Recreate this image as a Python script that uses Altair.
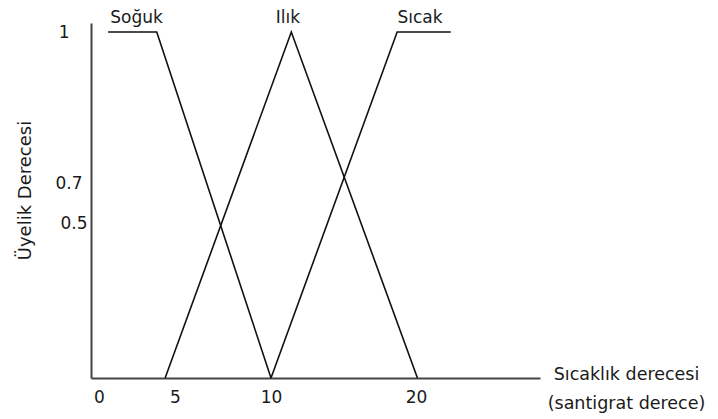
import altair as alt
import pandas as pd

# ---- data (x in "drawn" temperature units, y in membership) ----
series_names = ["Soğuk", "Ilık", "Sıcak"]
soguk_x = [0.6, 3.8, 10.0]
soguk_y = [1.0, 1.0, 0.0]
ilik_x = [4.35, 11.4, 20.1]
ilik_y = [0.0, 1.0, 0.0]
sicak_x = [10.0, 18.7, 22.4]
sicak_y = [0.0, 1.0, 1.0]

label_x = [2.47, 11.17, 20.28]
label_y = [1.0, 1.0, 1.0]

x_ticks = [0, 5, 10, 20]
y_ticks = [0.5, 0.7, 1]
x_title = ["Sıcaklık derecesi", "(santigrat derece)"]
y_title = "Üyelik Derecesi"

# ---- tables ----
rows = []
for name, xs, ys in zip(series_names, [soguk_x, ilik_x, sicak_x], [soguk_y, ilik_y, sicak_y]):
    for i, (xv, yv) in enumerate(zip(xs, ys)):
        rows.append({"series": name, "x": xv, "y": yv, "order": i})
lines_df = pd.DataFrame(rows)
labels_df = pd.DataFrame({"series": series_names, "x": label_x, "y": label_y})

FONT = "DejaVu Sans"
W, H = 449, 355

# hand-drawn axes: piecewise scales so the ticks sit where the drawing puts them
x_scale = alt.Scale(domain=[-0.53, 0, 5, 10, 20, 28.55],
                    range=[0, 8, 84, 180, 325, W], zero=False, nice=False)
y_scale = alt.Scale(domain=[0, 0.5, 0.7, 1, 1.018],
                    range=[H, 200, 160, 9, 0], zero=False, nice=False)

x_axis = alt.Axis(values=x_ticks, format="d", ticks=False, grid=False,
                  labelPadding=11, labelFont=FONT, labelFontSize=17, labelColor="#1a1a1a",
                  labelFlush=False, labelOverlap=False,
                  domainColor="#444444", domainWidth=2,
                  title=x_title, titleFont=FONT, titleFontSize=17.5, titleFontWeight="normal",
                  titleColor="#1a1a1a", titleX=535, titleY=1, titleAlign="center",
                  titleBaseline="alphabetic", titleLineHeight=29)
y_axis = alt.Axis(values=y_ticks, format="~g", ticks=False, grid=False,
                  labelPadding=alt.expr("datum.value == 1 ? 22 : (datum.value == 0.7 ? 9 : 4)"),
                  labelFont=FONT, labelFontSize=17, labelColor="#1a1a1a",
                  labelBaseline="middle", labelFlush=False, labelOverlap=False,
                  domainColor="#444444", domainWidth=2,
                  title=y_title, titleFont=FONT, titleFontSize=18, titleFontWeight="normal",
                  titleColor="#1a1a1a", titleAngle=270, titleX=-66, titleY=167,
                  titleAlign="center", titleBaseline="middle")

x_enc = alt.X("x:Q", scale=x_scale, axis=x_axis)
y_enc = alt.Y("y:Q", scale=y_scale, axis=y_axis)

lines = alt.Chart(lines_df).mark_line(color="#111111", strokeWidth=1.6).encode(
    x=x_enc, y=y_enc, detail="series:N", order="order:Q"
)
texts = alt.Chart(labels_df).mark_text(
    font=FONT, fontSize=17, color="#1a1a1a", baseline="alphabetic", align="center", dy=-9
).encode(x=x_enc, y=y_enc, text="series:N")

chart = alt.layer(lines, texts).properties(
    width=W, height=H,
    autosize=alt.AutoSizeParams(type="none"),
    padding={"left": 83, "top": 15, "right": 170, "bottom": 38},
    background="white",
).configure_view(stroke=None)

chart.save("out.html", embed_options={"renderer": "svg", "actions": False})
